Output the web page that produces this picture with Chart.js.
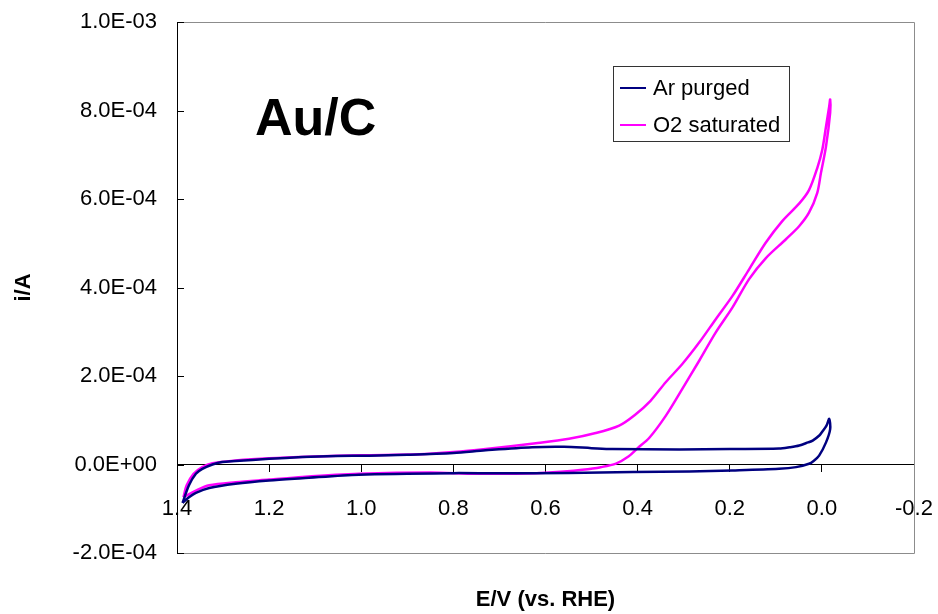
<!DOCTYPE html>
<html>
<head>
<meta charset="utf-8">
<title>Au/C</title>
<script src="https://cdn.jsdelivr.net/npm/chart.js@4.4.1/dist/chart.umd.min.js"></script>
<style>
  html, body { margin: 0; padding: 0; background: #fff; }
  #wrap { width: 938px; height: 614px; }
</style>
</head>
<body>
<div id="wrap"><canvas id="cv" width="938" height="614"></canvas></div>
<script>
// potential (V vs. RHE) and current (A), one closed CV loop per gas
const arPotential = [
  1.388, 1.374, 1.359, 1.345, 1.323, 1.302, 1.273, 1.200, 1.128, 1.055, 0.983, 0.900, 0.800,
  0.730, 0.629, 0.560, 0.500, 0.455, 0.310, 0.200, 0.093, 0.070, 0.049, 0.030, 0.020, 0.005,
  0.000, -0.010, -0.016,
  -0.018, -0.009, 0.006, 0.018, 0.028, 0.056, 0.093, 0.195, 0.288, 0.411, 0.550, 0.700, 0.800,
  1.005, 1.128, 1.200, 1.273, 1.330, 1.359, 1.374, 1.388
];
const arCurrent = [
  -8.7e-5, -4.7e-5, -2.1e-5, -1.0e-5, 0.0, 5.4e-6, 7.7e-6, 1.29e-5, 1.67e-5, 1.9e-5, 2.0e-5, 2.2e-5, 2.6e-5,
  3.2e-5, 3.9e-5, 4.0e-5, 3.7e-5, 3.5e-5, 3.4e-5, 3.5e-5, 3.6e-5, 3.9e-5, 4.3e-5, 5.0e-5, 5.4e-5, 6.6e-5,
  7.3e-5, 8.8e-5, 1.03e-4,
  8.0e-5, 5.0e-5, 2.0e-5, 8.0e-6, 1.6e-6, -5.9e-6, -9.7e-6, -1.35e-5, -1.6e-5, -1.7e-5, -1.9e-5, -2.0e-5, -1.95e-5,
  -2.3e-5, -3.1e-5, -3.6e-5, -4.35e-5, -5.3e-5, -6.4e-5, -7.4e-5, -8.7e-5
];

const o2Potential = [
  1.386, 1.379, 1.364, 1.345, 1.323, 1.273, 1.200, 1.100, 1.000, 0.874, 0.800, 0.730, 0.621,
  0.549, 0.491, 0.440, 0.406, 0.372, 0.339, 0.303, 0.266, 0.230, 0.194, 0.158, 0.122, 0.086,
  0.049, 0.028, 0.010, -0.001, -0.009, -0.016, -0.018,
  -0.018, -0.009, 0.002, 0.010, 0.028, 0.049, 0.078, 0.122, 0.158, 0.194, 0.230, 0.266, 0.303,
  0.339, 0.375, 0.400, 0.420, 0.447, 0.480, 0.520, 0.560, 0.620, 0.750, 0.850, 1.005, 1.128,
  1.200, 1.273, 1.330, 1.359, 1.386
];
const o2Current = [
  -7.4e-5, -4.7e-5, -2.1e-5, -5.9e-6, 3.0e-6, 9.0e-6, 1.4e-5, 1.8e-5, 2.1e-5, 2.3e-5, 2.8e-5, 3.5e-5, 4.8e-5,
  5.8e-5, 7.1e-5, 8.8e-5, 1.12e-4, 1.44e-4, 1.86e-4, 2.27e-4, 2.76e-4, 3.29e-4, 3.81e-4, 4.41e-4, 5.01e-4, 5.50e-4,
  5.90e-4, 6.20e-4, 6.70e-4, 7.12e-4, 7.64e-4, 8.10e-4, 8.25e-4,
  7.95e-4, 7.19e-4, 6.59e-4, 6.14e-4, 5.69e-4, 5.39e-4, 5.09e-4, 4.66e-4, 4.19e-4, 3.55e-4, 2.99e-4, 2.35e-4, 1.71e-4,
  1.10e-4, 6.0e-5, 3.7e-5, 1.8e-5, 2.0e-6, -6.0e-6, -1.2e-5, -1.6e-5, -2.0e-5, -2.1e-5, -1.8e-5, -2.1e-5, -2.8e-5,
  -3.4e-5, -4.0e-5, -4.7e-5, -5.9e-5, -7.4e-5
];

const seriesNames = ["Ar purged", "O2 saturated"];
const seriesColors = ["#000080", "#FF00FF"];
const panelLabel = "Au/C";

const toPoints = (xs, ys) => xs.map((x, i) => ({ x: x, y: ys[i] }));

// 1.0E-03 style labels
function sci(v) {
  if (Math.abs(v) < 1e-12) return "0.0E+00";
  const parts = v.toExponential(1).split("e");
  const n = parseInt(parts[1], 10);
  return parts[0] + "E" + (n < 0 ? "-" : "+") + String(Math.abs(n)).padStart(2, "0");
}

// keep the plot box where the layout padding says
function noOverflow(scale) {
  scale.paddingLeft = 0;
  scale.paddingRight = 0;
  scale.paddingTop = 0;
  scale.paddingBottom = 0;
}

const FONT = "'Liberation Sans', Arial, sans-serif";

// grey frame, inward y ticks, boxed legend and the panel label
const decor = {
  id: "decor",
  beforeDatasetsDraw(chart) {
    const { ctx, chartArea: a, scales } = chart;
    ctx.save();
    ctx.lineWidth = 1;
    ctx.strokeStyle = "#8c8c8c";
    ctx.beginPath();
    ctx.moveTo(a.left, a.top + 0.5);
    ctx.lineTo(a.right + 0.5, a.top + 0.5);
    ctx.lineTo(a.right + 0.5, a.bottom + 0.5);
    ctx.lineTo(a.left, a.bottom + 0.5);
    ctx.stroke();
    ctx.strokeStyle = "#000";
    ctx.beginPath();
    scales.y.ticks.forEach(t => {
      const py = Math.round(scales.y.getPixelForValue(t.value)) + 0.5;
      ctx.moveTo(a.left, py);
      ctx.lineTo(a.left + 7, py);
    });
    ctx.stroke();
    ctx.restore();
  },
  afterDraw(chart) {
    const { ctx, chartArea: a } = chart;
    ctx.save();
    // panel label
    ctx.fillStyle = "#000";
    ctx.font = "bold 52px " + FONT;
    ctx.textBaseline = "alphabetic";
    ctx.textAlign = "left";
    ctx.fillText(panelLabel, a.left + 78, a.top + 113);

    // legend box
    const lx = a.left + 436, ly = a.top + 44, lw = 176, lh = 75;
    ctx.fillStyle = "#fff";
    ctx.fillRect(lx, ly, lw, lh);
    ctx.strokeStyle = "#333";
    ctx.lineWidth = 1;
    ctx.strokeRect(lx + 0.5, ly + 0.5, lw, lh);
    ctx.font = "22px " + FONT;
    ctx.textBaseline = "middle";
    chart.data.datasets.forEach((ds, i) => {
      const yy = ly + 22 + i * 37;
      ctx.strokeStyle = ds.borderColor;
      ctx.lineWidth = 2;
      ctx.beginPath();
      ctx.moveTo(lx + 7, yy);
      ctx.lineTo(lx + 33, yy);
      ctx.stroke();
      ctx.fillStyle = "#000";
      ctx.fillText(ds.label, lx + 40, yy + 1);
    });
    ctx.restore();
  }
};

new Chart(document.getElementById("cv"), {
  type: "scatter",
  data: {
    datasets: [
      {
        label: seriesNames[0],
        data: toPoints(arPotential, arCurrent),
        borderColor: seriesColors[0],
        backgroundColor: seriesColors[0],
        borderWidth: 2.5,
        showLine: true,
        pointRadius: 0,
        tension: 0.3
      },
      {
        label: seriesNames[1],
        data: toPoints(o2Potential, o2Current),
        borderColor: seriesColors[1],
        backgroundColor: seriesColors[1],
        borderWidth: 2.5,
        showLine: true,
        pointRadius: 0,
        tension: 0.3
      }
    ]
  },
  options: {
    responsive: false,
    animation: false,
    layout: { padding: { top: 22, right: 24, bottom: 61, left: 0 } },
    plugins: { legend: { display: false }, tooltip: { enabled: false } },
    scales: {
      x: {
        type: "linear",
        reverse: true,
        min: -0.2,
        max: 1.4,
        position: { y: 0 },
        border: { color: "#000", width: 1 },
        grid: { drawOnChartArea: false, tickLength: 7, color: "#000" },
        ticks: {
          stepSize: 0.2,
          padding: 24,
          color: "#000",
          font: { family: FONT, size: 22 },
          maxRotation: 0,
          callback: v => (Math.abs(v) < 1e-9 ? "0.0" : Number(v).toFixed(1))
        },
        title: {
          display: true,
          text: "E/V (vs. RHE)",
          color: "#000",
          font: { family: FONT, size: 22, weight: "bold" },
          padding: { top: 41, bottom: 0 }
        },
        afterFit: noOverflow
      },
      y: {
        min: -2e-4,
        max: 1e-3,
        border: { color: "#000", width: 1 },
        grid: { drawOnChartArea: false, drawTicks: false },
        ticks: {
          stepSize: 2e-4,
          padding: 20,
          color: "#000",
          font: { family: FONT, size: 22 },
          callback: v => sci(v)
        },
        title: {
          display: true,
          text: "i/A",
          color: "#000",
          font: { family: FONT, size: 22, weight: "bold" },
          padding: { top: 11, bottom: 0 }
        },
        afterFit(scale) {
          noOverflow(scale);
          scale.width = 177;
        }
      }
    }
  },
  plugins: [decor]
});
</script>
</body>
</html>
